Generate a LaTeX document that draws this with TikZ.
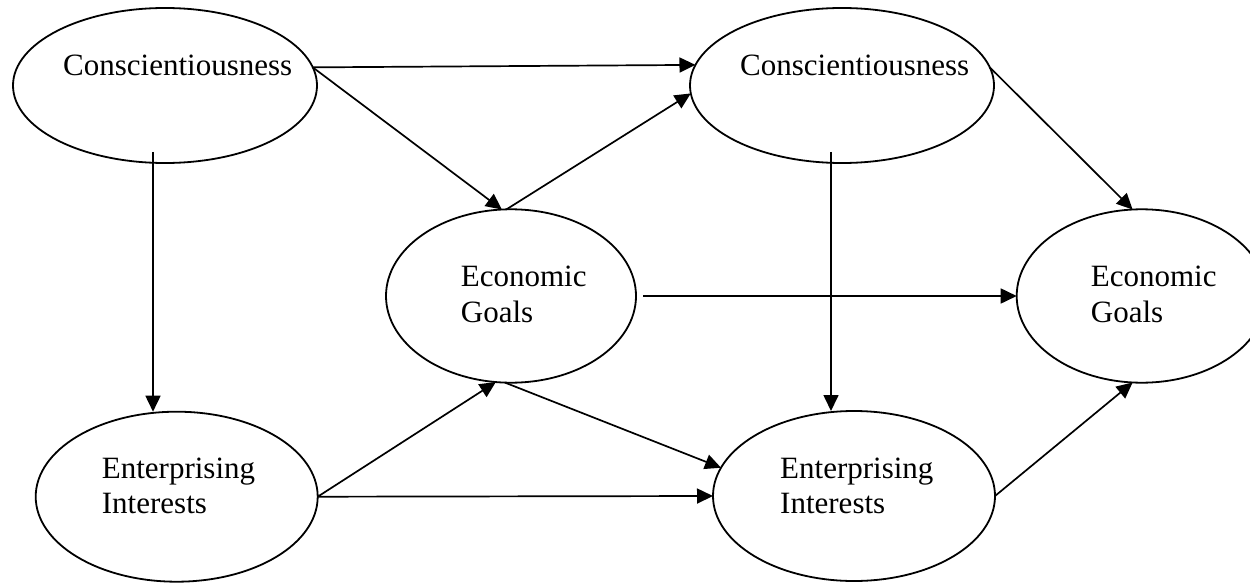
\documentclass[tikz,border=0pt]{standalone}
\usepackage{fontspec}
\setmainfont{Liberation Serif}
\usetikzlibrary{shapes.geometric,arrows.meta}
\begin{document}
\begin{tikzpicture}[x=1pt,y=-1pt,
  latent/.style={draw,ellipse,line width=1.8pt,inner sep=0pt,outer sep=0pt},
  wide/.style={minimum width=304pt,minimum height=155pt},
  mid/.style={minimum width=250pt,minimum height=173.4pt},
  low/.style={minimum width=282pt,minimum height=170pt},
  lbl/.style={anchor=base west,inner sep=0pt,font=\fontsize{31}{36}\selectfont},
  path/.style={line width=1.7pt,-{Triangle[length=16pt,width=15pt]}}]
\useasboundingbox (0,0) rectangle (1250,583);
\clip (0,0) rectangle (1250,583);

% latent variables
\node[latent,wide] (c1) at (165,85.5) {};
\node[latent,wide] (c2) at (842,85.5) {};
\node[latent,mid]  (g1) at (511,296) {};
\node[latent,mid]  (g2) at (1141.7,296) {};
\node[latent,low]  (e1) at (176.7,496.7) {};
\node[latent,low]  (e2) at (854,496) {};

% labels
\node[lbl] (c1t) at (63,76) {Conscientiousness};
\node[lbl] (c2t) at (740,76) {Conscientiousness};
\node[lbl] (g1a) at (460.7,286.7) {Economic};
\node[lbl] (g1b) at (460.7,322.7) {Goals};
\node[lbl] (g2a) at (1090.7,286.7) {Economic};
\node[lbl] (g2b) at (1090.7,322.7) {Goals};
\node[lbl] (e1a) at (101.7,478.3) {Enterprising};
\node[lbl] (e1b) at (101.7,513.3) {Interests};
\node[lbl] (e2a) at (780,478) {Enterprising};
\node[lbl] (e2b) at (780,513) {Interests};

% start points of the vertical paths
\coordinate (v1) at (153,152);
\coordinate (v2) at (831,152);

% paths
\draw[path] (c1.7.5) -- (c2.172.5);
\draw[path] (c1.7.5) -- (g1.96);
\draw[path] (g1.93) -- (c2.183.6);
\draw[path] (c2.7.5) -- (g2.96);
\draw[path] (v1) -- (e1.north -| v1);
\draw[path] (v2) -- (e2.north -| v2);
\draw[path] ([xshift=7pt]g1.east) -- (g2.west);
\draw[path] (e1.east) -- (g1.260.7);
\draw[path] (e1.east) -- (e2.west);
\draw[path] (g1.266) -- (e2.168.9);
\draw[path] (e2.east) -- (g2.264);
\end{tikzpicture}
\end{document}
